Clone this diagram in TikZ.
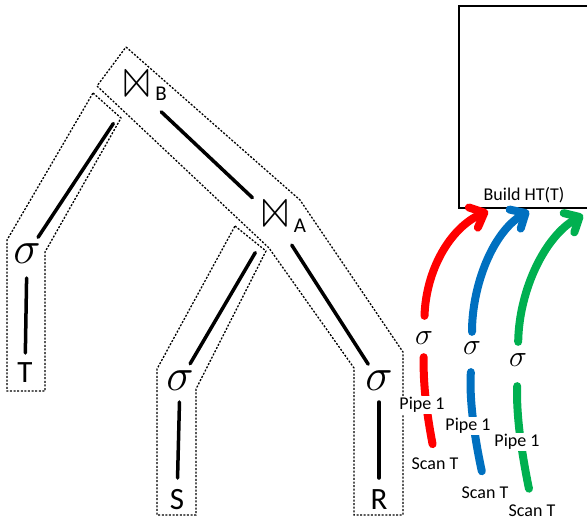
\RequirePackage{fix-cm}
\documentclass[tikz,border=0pt]{standalone}
\usepackage{latexsym}
\usepackage{graphicx}
\usepackage{fontspec}
\setmainfont{Carlito}
\usetikzlibrary{arrows.meta}
\definecolor{pred}{RGB}{255,0,0}
\definecolor{pblue}{RGB}{0,112,192}
\definecolor{pgreen}{RGB}{0,176,80}
\begin{document}
\begin{tikzpicture}[x=1pt,y=-1pt,
 treeline/.style={line width=3.5pt, line cap=round},
 pipebox/.style={line width=1.3pt, dash pattern=on 2pt off 1.6pt, line join=miter},
 sig/.style={inner sep=0pt, font=\fontsize{46}{46}\selectfont},
 rel/.style={inner sep=0pt, font=\fontsize{31}{31}\selectfont},
 joinsym/.style={inner sep=0pt, font=\fontsize{24.88}{25}\selectfont},
 sub/.style={inner sep=0pt, font=\fontsize{21}{21}\selectfont},
 small/.style={inner sep=1pt, font=\fontsize{18}{18}\selectfont},
 lbl/.style={small, fill=white},
 flow/.style={line width=8pt, line cap=round},
 flowarrow/.style={flow, -{Straight Barb[length=12pt,width=22pt,round]}},
 csig/.style={inner sep=0pt, font=\fontsize{30}{30}\selectfont},
]
\useasboundingbox (0,0) rectangle (587,520);
\clip (0,0) rectangle (587,520);

% hash table box
\node[draw, line width=1.8pt, inner sep=0pt, minimum width=132pt, minimum height=202pt] (ht) at (525,107) {};
\node[small] (build) at (524,195) {Build HT(T)};

% pipeline outlines
\draw[pipebox] (126,47) -- (300,200) -- (403,352) -- (403,515) -- (354,515) -- (354,368) -- (269,248) -- (97,86) -- cycle;
\draw[pipebox] (93,93) -- (121,118) -- (45,252) -- (45,391) -- (7,391) -- (7,240) -- cycle;
\draw[pipebox] (235,226) -- (266,251) -- (196,389) -- (196,515) -- (157,515) -- (157,369) -- cycle;

% tree nodes
\node[joinsym] (jB) at (136.5,88.5) {\scalebox{1.6}[1.9]{$\Join$}};
\node[sub] (jBs) at (161,94) {B};
\node[joinsym] (jA) at (275,219) {\scalebox{1.6}[1.9]{$\Join$}};
\node[sub] (jAs) at (300,226) {A};
\node[sig] (sT) at (27,254) {$\sigma$};
\node[rel] (T) at (25,373) {T};
\node[sig] (sS) at (180,381) {$\sigma$};
\node[rel] (S) at (177,500) {S};
\node[sig] (sR) at (379,381) {$\sigma$};
\node[rel] (R) at (379,500) {R};

% tree edges
\draw[treeline, shorten <=42pt, shorten >=20pt] (jB.center) -- (sT.center);
\draw[treeline, shorten <=34pt, shorten >=31pt] (jB.center) -- (jA.center);
\draw[treeline, shorten <=39pt, shorten >=20pt] (jA.center) -- (sS.center);
\draw[treeline, shorten <=31pt, shorten >=20pt] (jA.center) -- (sR.center);
\draw[treeline, shorten <=24pt, shorten >=20pt] (sT.center) -- (T.center);
\draw[treeline, shorten <=21pt, shorten >=22pt] (sS.center) -- (S.center);
\draw[treeline, shorten <=21pt, shorten >=22pt] (sR.center) -- (R.center);

% flow nodes
\node[small] (scanR) at (435,464) {Scan T};
\node[csig] (sigR) at (424,338) {$\sigma$};
\coordinate (tipR) at (488,211);
\node[small] (scanB) at (485,493) {Scan T};
\node[csig] (sigB) at (472,348) {$\sigma$};
\coordinate (tipB) at (529,211);
\node[small] (scanG) at (532,510.5) {Scan T};
\node[csig] (sigG) at (518,360) {$\sigma$};
\coordinate (tipG) at (583,215);

% red
\draw[flow, pred, shorten <=13pt, shorten >=12.5pt] (scanR.north) .. controls (427,415) and (423,385) .. (sigR.south);
\draw[flowarrow, pred, shorten <=15.5pt] (sigR.north) .. controls (426,270) and (450,228) .. (tipR);
% blue
\draw[flow, pblue, shorten <=15pt, shorten >=17.5pt] (scanB.north) .. controls (475,440) and (469,400) .. (sigB.south);
\draw[flowarrow, pblue, shorten <=9.5pt] (sigB.north) .. controls (472,285) and (493,232) .. (tipB);
% green
\draw[flow, pgreen, shorten <=15pt, shorten >=19.5pt] (scanG.north) .. controls (522,455) and (516,415) .. (sigG.south);
\draw[flowarrow, pgreen, shorten <=11.5pt] (sigG.north) .. controls (519,290) and (545,236) .. (tipG);

\node[lbl] (pipeR) at (422,405) {Pipe 1};
\node[lbl] (pipeB) at (468,426) {Pipe 1};
\node[lbl] (pipeG) at (517,442) {Pipe 1};
\end{tikzpicture}
\end{document}
